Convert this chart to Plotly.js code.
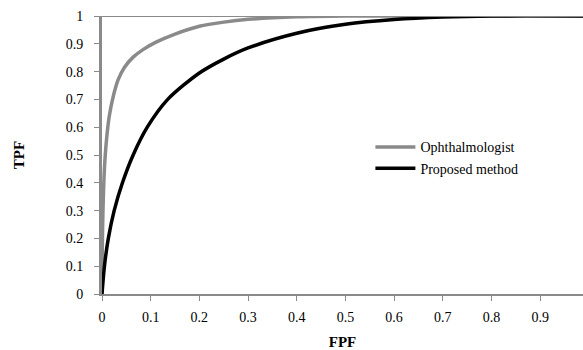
<!DOCTYPE html>
<html><head><meta charset="utf-8">
<script src="https://cdn.plot.ly/plotly-3.0.1.min.js"></script>
<style>html,body{margin:0;padding:0;background:#fff}#c{width:583px;height:350px}</style>
</head><body><div id="c"></div>
<script>
const ophFPF = [0, 0.0005, 0.002, 0.005, 0.009, 0.015, 0.023, 0.033, 0.046, 0.064, 0.085, 0.11, 0.15, 0.2, 0.25, 0.3, 0.4, 0.5, 0.7, 1.0];
const ophTPF = [0, 0.15, 0.3, 0.45, 0.55, 0.64, 0.71, 0.77, 0.815, 0.852, 0.88, 0.905, 0.935, 0.963, 0.978, 0.988, 0.997, 1.0, 1.0, 1.0];
const propFPF = [0, 0.005, 0.013, 0.025, 0.042, 0.064, 0.093, 0.135, 0.2, 0.25, 0.3, 0.4, 0.5, 0.6, 0.7, 0.8, 1.0];
const propTPF = [0, 0.1, 0.2, 0.3, 0.4, 0.5, 0.6, 0.7, 0.795, 0.845, 0.885, 0.938, 0.97, 0.987, 0.996, 1.0, 1.0];
const serif = '"Liberation Serif", "Times New Roman", serif';
const traces = [
  {x: ophFPF, y: ophTPF, name: 'Ophthalmologist', mode: 'lines', line: {color: '#8a8a8a', width: 3.5, shape: 'spline', smoothing: 0.8}, cliponaxis: false},
  {x: propFPF, y: propTPF, name: 'Proposed method', mode: 'lines', line: {color: '#000', width: 3.5, shape: 'spline', smoothing: 0.8}, cliponaxis: false}
];
const layout = {
  width: 583, height: 350,
  margin: {l: 102, r: 0, t: 16, b: 56},
  paper_bgcolor: '#fff', plot_bgcolor: '#fff',
  showlegend: true,
  legend: {x: 0.558, y: 0.585, xanchor: 'left', yanchor: 'top', font: {family: serif, size: 14, color: '#000'}, itemwidth: 40, tracegroupgap: 0, bgcolor: 'rgba(0,0,0,0)'},
  xaxis: {range: [0, 0.988], dtick: 0.1, tick0: 0, showgrid: false, zeroline: false,
    showline: true, linecolor: '#8a8a8a', linewidth: 2, ticks: 'outside', ticklen: 5, tickcolor: '#8a8a8a', tickwidth: 1,
    ticklabelstandoff: 4,
    tickfont: {family: serif, size: 14, color: '#000'},
    title: {text: '<b>FPF</b>', font: {family: serif, size: 15, color: '#000'}, standoff: 14}},
  yaxis: {range: [0, 1], dtick: 0.1, tick0: 0, showgrid: false, zeroline: false,
    showline: true, linecolor: '#8a8a8a', linewidth: 3, ticks: 'outside', ticklen: 5, tickcolor: '#8a8a8a', tickwidth: 1,
    ticklabelstandoff: 8,
    tickfont: {family: serif, size: 14, color: '#000'},
    title: {text: '<b>TPF</b>', font: {family: serif, size: 15, color: '#000'}, standoff: 38}},
  shapes: [{type: 'line', xref: 'paper', yref: 'y', x0: 0, x1: 1, y0: 1, y1: 1, line: {color: '#8a8a8a', width: 2}}]
};
Plotly.newPlot('c', traces, layout, {displayModeBar: false, staticPlot: true});
</script></body></html>
